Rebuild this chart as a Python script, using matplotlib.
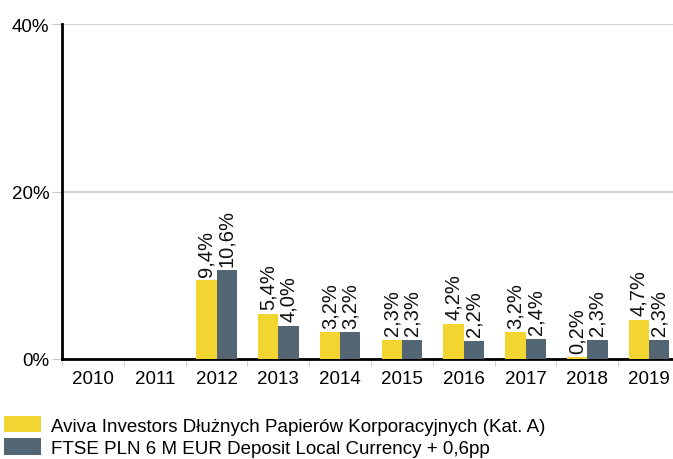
import matplotlib
matplotlib.use("Agg")
import matplotlib.pyplot as plt
import numpy as np

plt.rcParams['font.family'] = ['Liberation Sans', 'DejaVu Sans']

years = ['2010', '2011', '2012', '2013', '2014', '2015', '2016', '2017', '2018', '2019']
fund = [np.nan, np.nan, 9.4, 5.4, 3.2, 2.3, 4.2, 3.2, 0.2, 4.7]
bench = [np.nan, np.nan, 10.6, 4.0, 3.2, 2.3, 2.2, 2.4, 2.3, 2.3]
fund_name = 'Aviva Investors Dłużnych Papierów Korporacyjnych (Kat. A)'
bench_name = 'FTSE PLN 6 M EUR Deposit Local Currency + 0,6pp'

yellow = '#F2D530'
grey = '#546574'

fig = plt.figure(figsize=(6.73, 4.60), dpi=100)
ax = fig.add_axes([62 / 673, 100 / 460, 618 / 673, 335 / 460])

x = np.arange(len(years))
w = 0.33
b1 = ax.bar(x - w / 2, fund, w, color=yellow, label=fund_name, zorder=3)
b2 = ax.bar(x + w / 2, bench, w, color=grey, label=bench_name, zorder=3)


def pct(v):
    return f'{v:.1f}%'.replace('.', ',')


for xs, vals in [(x - w / 2, fund), (x + w / 2, bench)]:
    for xi, v in zip(xs, vals):
        if np.isnan(v):
            continue
        ax.text(xi, v + 0.55, pct(v), rotation=90, ha='center', va='bottom',
                fontsize=14.5, color='#111111', zorder=4)

ax.set_xlim(-0.5, len(years) - 0.5)
ax.set_ylim(0, 40)
ax.set_yticks([0, 20, 40])
ax.set_yticklabels(['0%', '20%', '40%'], fontsize=13.5)
ax.yaxis.grid(True, color='#c8c8c8', linewidth=1.2, zorder=0)
ax.tick_params(axis='y', length=7, color='#c8c8c8', pad=2)

ax.set_xticks(x)
ax.set_xticklabels(years, fontsize=13.5)
ax.tick_params(axis='x', length=0, pad=8)
ax.set_xticks(np.arange(len(years) + 1) - 0.5, minor=True)
ax.tick_params(axis='x', which='minor', length=5, color='#c8c8c8')

for s in ['top', 'right']:
    ax.spines[s].set_visible(False)
ax.spines['left'].set_linewidth(2)
ax.spines['bottom'].set_linewidth(2)

# second legend row sits at the very bottom edge, as in the original
fig.legend(handles=[b1, b2], loc='lower left', bbox_to_anchor=(0, -0.004),
           frameon=False, fontsize=13.5, handlelength=2.0, handleheight=1.0,
           handletextpad=0.5, labelspacing=0.2, borderaxespad=0, borderpad=0.2)

fig.savefig('out.png', dpi=100)
